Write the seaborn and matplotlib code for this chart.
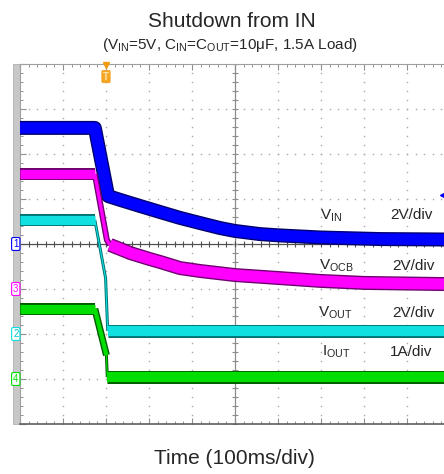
import numpy as np
import matplotlib
matplotlib.use('Agg')
import matplotlib.pyplot as plt
import seaborn as sns
from matplotlib.patches import Rectangle
from matplotlib.ticker import MultipleLocator

sns.set_style('white')
plt.rcParams['font.family'] = ['Liberation Sans', 'DejaVu Sans']
plt.rcParams['mathtext.fontset'] = 'custom'
plt.rcParams['mathtext.rm'] = 'Liberation Sans'
plt.rcParams['mathtext.it'] = 'Liberation Sans:italic'

# scope traces, time in ms from the trigger point
vin_t = [-200, -26, 5, 33, 79, 126, 172, 219, 265, 300, 358, 405, 498, 637, 786]
vin_v = [5.16, 5.16, 2.13, 1.96, 1.69, 1.42, 1.16, 0.93, 0.71, 0.58, 0.44, 0.38,
         0.29, 0.22, 0.20]

vocb_t = [-200, -26, 2, 9, 33, 56, 102, 126, 172, 219, 300, 400, 498, 600, 786]
vocb_v = [5.11, 5.11, 2.18, 1.96, 1.78, 1.60, 1.33, 1.20, 0.93, 0.80, 0.62, 0.49,
          0.36, 0.27, 0.22]

vout_t = [-200, -26, -1, 4, 786]
vout_v = [5.07, 5.07, 2.49, 0.13, 0.13]

iout_t = [-200, -26, 1, 3, 786]
iout_v = [1.56, 1.56, 0.53, 0.04, 0.04]

# channel label, scale text, ground (div), units per div
channels = ['V$_{\\rm IN}$', 'V$_{\\rm OCB}$', 'V$_{\\rm OUT}$', 'I$_{\\rm OUT}$']
scales = ['2V/div', '2V/div', '2V/div', '1A/div']
grounds = [0, -1, -2, -3]
per_div = [2, 2, 2, 1]
ch_numbers = ['1', '3', '2', '4']

colors = ['#0000ff', '#ff00ff', '#10e0e0', '#00dd00']
edges = ['#000070', '#700070', '#007070', '#005a00']

fig = plt.figure(figsize=(4.44, 4.74), dpi=100)
ax = fig.add_axes([20 / 444, 50 / 474, 424 / 444, 360 / 474])
ax.set_xlim(-200, 786)
ax.set_ylim(-4, 4)

# left gray strip of the scope screen
fig.patches.append(Rectangle((13 / 444, 50 / 474), 7 / 444, 360 / 474,
                             transform=fig.transFigure, facecolor='#c8c8c8',
                             edgecolor='#b0b0b0', lw=0.6, zorder=-1))

# dotted graticule
ydots = np.arange(-4, 4.01, 0.2)
xdots = np.arange(-200, 790, 20)
for gx in [-100, 0, 100, 200, 400, 500, 600, 700]:
    ax.plot(np.full(len(ydots), gx), ydots, ls='none', marker='s', ms=1.0,
            color='#a8a8a8', mew=0, zorder=1)
for gy in [-3, -2, -1, 1, 2, 3]:
    ax.plot(xdots, np.full(len(xdots), gy), ls='none', marker='s', ms=1.0,
            color='#a8a8a8', mew=0, zorder=1)

ax.axvline(300, color='#8c8c8c', lw=0.9, zorder=1)
ax.axhline(0, color='#505050', lw=0.9, zorder=1)
ax.plot(np.full(len(ydots), 300), ydots, ls='none', marker='_', ms=4,
        color='#8c8c8c', mew=0.8, zorder=1)
ax.plot(xdots, np.zeros(len(xdots)), ls='none', marker='|', ms=4,
        color='#505050', mew=0.8, zorder=1)


def draw_band(t, v, ground, scale, px, color, edge):
    y = [ground + val / scale for val in v]
    lw = px * 0.72
    sns.lineplot(x=t, y=y, ax=ax, color=edge, linewidth=lw, sort=False,
                 estimator=None, solid_capstyle='butt', zorder=3)
    sns.lineplot(x=t, y=y, ax=ax, color=color, linewidth=max(lw - 2.0, 0.8),
                 sort=False, estimator=None, solid_capstyle='butt', zorder=4)


# VIN (ch1)
draw_band(vin_t, vin_v, grounds[0], per_div[0], 14, colors[0], edges[0])
# VOCB (ch3)
draw_band(vocb_t[:2], vocb_v[:2], grounds[1], per_div[1], 12, colors[1], edges[1])
draw_band(vocb_t[1:4], vocb_v[1:4], grounds[1], per_div[1], 6, colors[1], edges[1])
draw_band(vocb_t[3:], vocb_v[3:], grounds[1], per_div[1], 14, colors[1], edges[1])
# VOUT (ch2)
draw_band(vout_t[1:4], vout_v[1:4], grounds[2], per_div[2], 3, colors[2], edges[2])
draw_band(vout_t[:2], vout_v[:2], grounds[2], per_div[2], 12, colors[2], edges[2])
draw_band(vout_t[3:], vout_v[3:], grounds[2], per_div[2], 13, colors[2], edges[2])
# IOUT (ch4)
draw_band(iout_t[1:3], iout_v[1:3], grounds[3], per_div[3], 7, colors[3], edges[3])
draw_band(iout_t[2:4], iout_v[2:4], grounds[3], per_div[3], 3, colors[3], edges[3])
draw_band(iout_t[:2], iout_v[:2], grounds[3], per_div[3], 12, colors[3], edges[3])
draw_band(iout_t[3:], iout_v[3:], grounds[3], per_div[3], 13, colors[3], edges[3])

# channel labels on the right
name_x = [0.708, 0.705, 0.703, 0.712]
scale_x = [0.974, 0.979, 0.979, 0.972]
label_y = [0.569, 0.428, 0.297, 0.189]
for i in range(4):
    ax.text(name_x[i], label_y[i], channels[i], transform=ax.transAxes,
            ha='left', va='baseline', fontsize=11, zorder=6)
    ax.text(scale_x[i], label_y[i], scales[i], transform=ax.transAxes,
            ha='right', va='baseline', fontsize=11, zorder=6)

# channel ground markers in the left strip
trans = ax.get_yaxis_transform()
for i in range(4):
    ax.text(-0.010, grounds[i], ch_numbers[i], transform=trans, ha='center',
            va='center', fontsize=7, color=colors[i] if i != 2 else '#00c0d0',
            clip_on=False, zorder=7,
            bbox=dict(boxstyle='round,pad=0.15', fc='white',
                      ec=colors[i], lw=0.8))

# trigger marker
ax.plot([0], [3.97], marker='v', ms=5, color='#f39c12', clip_on=False, zorder=7)
ax.text(0, 3.72, 'T', ha='center', va='center', fontsize=7, fontweight='bold',
        color='#ffe2b0', zorder=7,
        bbox=dict(boxstyle='round,pad=0.12', fc='#f5a623', ec='#f0a020', lw=0.5))
# ch1 offset arrow at right edge
ax.plot([783], [1.09], marker='<', ms=4, color='#0000ff', clip_on=False, zorder=7)

# frame and ticks
ax.xaxis.set_major_locator(MultipleLocator(100))
ax.xaxis.set_minor_locator(MultipleLocator(20))
ax.yaxis.set_major_locator(MultipleLocator(1))
ax.yaxis.set_minor_locator(MultipleLocator(0.2))
ax.tick_params(which='both', direction='in', top=True, bottom=True, left=True,
               right=False, labelbottom=False, labelleft=False, color='#909090')
ax.tick_params(which='major', length=4, width=0.8)
ax.tick_params(which='minor', length=2.5, width=0.7)
ax.set_xlabel('')
ax.set_ylabel('')
ax.spines['right'].set_visible(False)
ax.spines['top'].set_color('#a0a0a0')
ax.spines['left'].set_color('#a0a0a0')
ax.spines['bottom'].set_color('#606060')
ax.spines['bottom'].set_linewidth(1.2)

fig.text(232 / 444, 0.944, 'Shutdown from IN', ha='center', va='baseline',
         fontsize=15)
fig.text(230 / 444, 0.896,
         '(V$_{\\rm IN}$=5V, C$_{\\rm IN}$=C$_{\\rm OUT}$=10\u03bcF, 1.5A Load)',
         ha='center', va='baseline', fontsize=11)
fig.text(234 / 444, 0.021, 'Time (100ms/div)', ha='center', va='baseline',
         fontsize=15)

fig.savefig('out.png', dpi=100)
